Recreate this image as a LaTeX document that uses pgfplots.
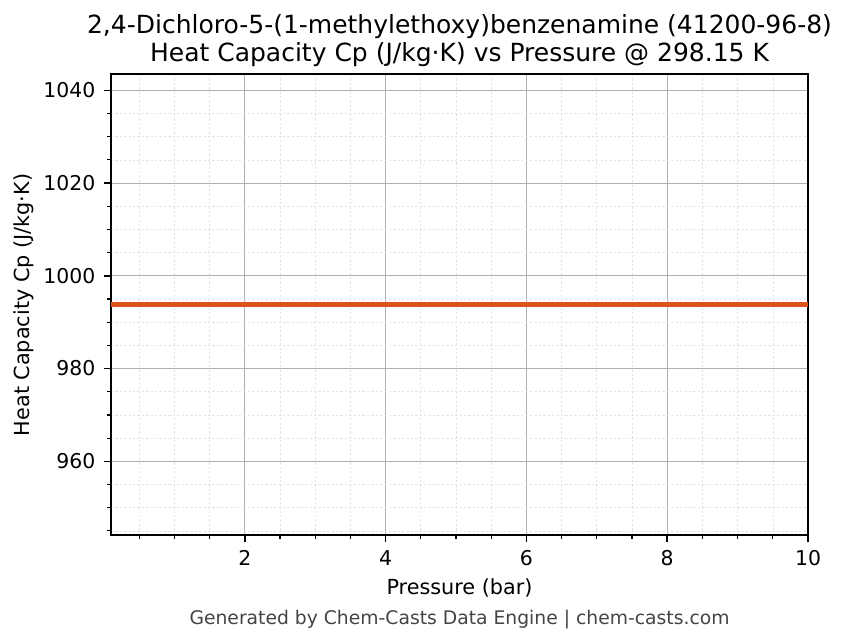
\documentclass[border=0pt]{standalone}
\usepackage{pgfplots}
\pgfplotsset{compat=1.18}
\usepackage{fontspec}
\setmainfont{DejaVu Sans}
\definecolor{cpline}{HTML}{D9531E}
\definecolor{majgrid}{HTML}{B0B0B0}
\definecolor{mingrid}{HTML}{E3E3E3}
\definecolor{footgray}{HTML}{444444}

\begin{document}
\begin{tikzpicture}
% whole figure frame, 6.4in x 4.8in
\path (0,0) rectangle (460.8pt,345.6pt);
\begin{axis}[
    at={(60.4pt,54.5pt)}, anchor=south west,
    scale only axis,
    width=379.2pt, height=250.8pt,
    xmin=0.1, xmax=10,
    ymin=944.1, ymax=1043.5,
    xtick={2,4,6,8,10},
    ytick={960,980,1000,1020,1040},
    minor xtick={0.5,1,...,10},
    minor ytick={945,950,...,1040},
    tick pos=left,
    tick align=outside,
    major tick length=4pt,
    minor tick length=2.2pt,
    every tick/.style={black, line width=0.8pt},
    every minor tick/.style={black, line width=0.6pt},
    grid=both,
    major grid style={majgrid, line width=0.5pt},
    minor grid style={mingrid, line width=0.35pt, dash pattern=on 1.2pt off 1.2pt},
    axis line style={black, line width=0.8pt},
    ticklabel style={font=\fontsize{11.1}{13}\selectfont},
    /pgf/number format/assume math mode=true,
    /pgf/number format/1000 sep={},
    xticklabel style={yshift=-1pt},
    yticklabel style={xshift=-1pt},
]
\addplot[cpline, line width=2.3pt] coordinates {
    (0.1, 993.8)
    (1.0, 993.8)
    (2.0, 993.8)
    (3.0, 993.8)
    (4.0, 993.8)
    (5.0, 993.8)
    (6.0, 993.8)
    (7.0, 993.8)
    (8.0, 993.8)
    (9.0, 993.8)
    (10.0, 993.8)
};
\end{axis}
\node[font=\fontsize{13.6}{16}\selectfont] at (250pt,331.3pt) {2,4-Dichloro-5-(1-methylethoxy)benzenamine (41200-96-8)};
\node[font=\fontsize{13.6}{16}\selectfont] at (250pt,315.8pt) {Heat Capacity Cp (J/kg·K) vs Pressure @ 298.15 K};
\node[font=\fontsize{11.3}{13}\selectfont] at (250pt,25.7pt) {Pressure (bar)};
\node[font=\fontsize{11.3}{13}\selectfont, rotate=90] at (12.8pt,179.7pt) {Heat Capacity Cp (J/kg·K)};
\node[font=\fontsize{10.2}{12}\selectfont, text=footgray] at (250pt,8.8pt) {Generated by Chem-Casts Data Engine | chem-casts.com};
\end{tikzpicture}
\end{document}
